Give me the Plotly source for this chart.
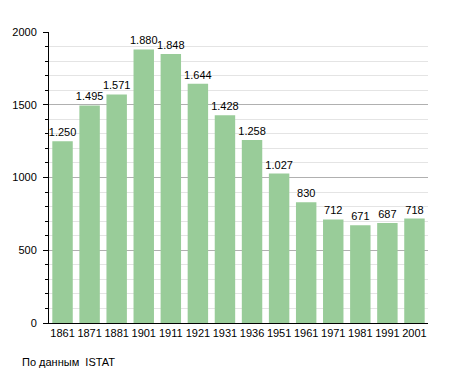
import plotly.graph_objects as go

years = ["1861", "1871", "1881", "1901", "1911", "1921", "1931", "1936", "1951", "1961", "1971", "1981", "1991", "2001"]
population = [1250, 1495, 1571, 1880, 1848, 1644, 1428, 1258, 1027, 830, 712, 671, 687, 718]
labels = ["1.250", "1.495", "1.571", "1.880", "1.848", "1.644", "1.428", "1.258", "1.027", "830", "712", "671", "687", "718"]
y_ticks = [0, 500, 1000, 1500, 2000]

fig = go.Figure(go.Bar(
    x=years, y=population, text=labels, textposition="outside",
    constraintext="none",
    textfont=dict(size=11, color="black", family="Liberation Sans, Arial"),
    marker=dict(color="#99cc99", line=dict(width=0)),
    cliponaxis=False,
))

fig.update_layout(
    width=439, height=365,
    margin=dict(l=41, r=19, t=24, b=50, autoexpand=False),
    paper_bgcolor="white", plot_bgcolor="white",
    bargap=0.245,
    showlegend=False,
    font=dict(family="Liberation Sans, Arial", size=11, color="black"),
    xaxis=dict(type="category", showline=True, linecolor="black", linewidth=1,
               ticks="", showgrid=False, tickfont=dict(size=11), automargin=False),
    yaxis=dict(range=[0, 2000], tickvals=y_ticks, showline=True, linecolor="black",
               linewidth=1, ticks="outside", ticklen=5, tickcolor="black",
               ticklabelstandoff=4,
               gridcolor="#b0b0b0", gridwidth=1, zeroline=False, automargin=False,
               tickfont=dict(size=11),
               minor=dict(dtick=100, showgrid=True, gridcolor="#e4e4e4",
                          ticks="outside", ticklen=3, tickcolor="black")),
)
fig.add_annotation(text="По данным  ISTAT", xref="paper", yref="paper",
                   x=-29/379, y=-39/291, xanchor="left", yanchor="middle",
                   showarrow=False, font=dict(size=11))

fig.write_html("out.html")
